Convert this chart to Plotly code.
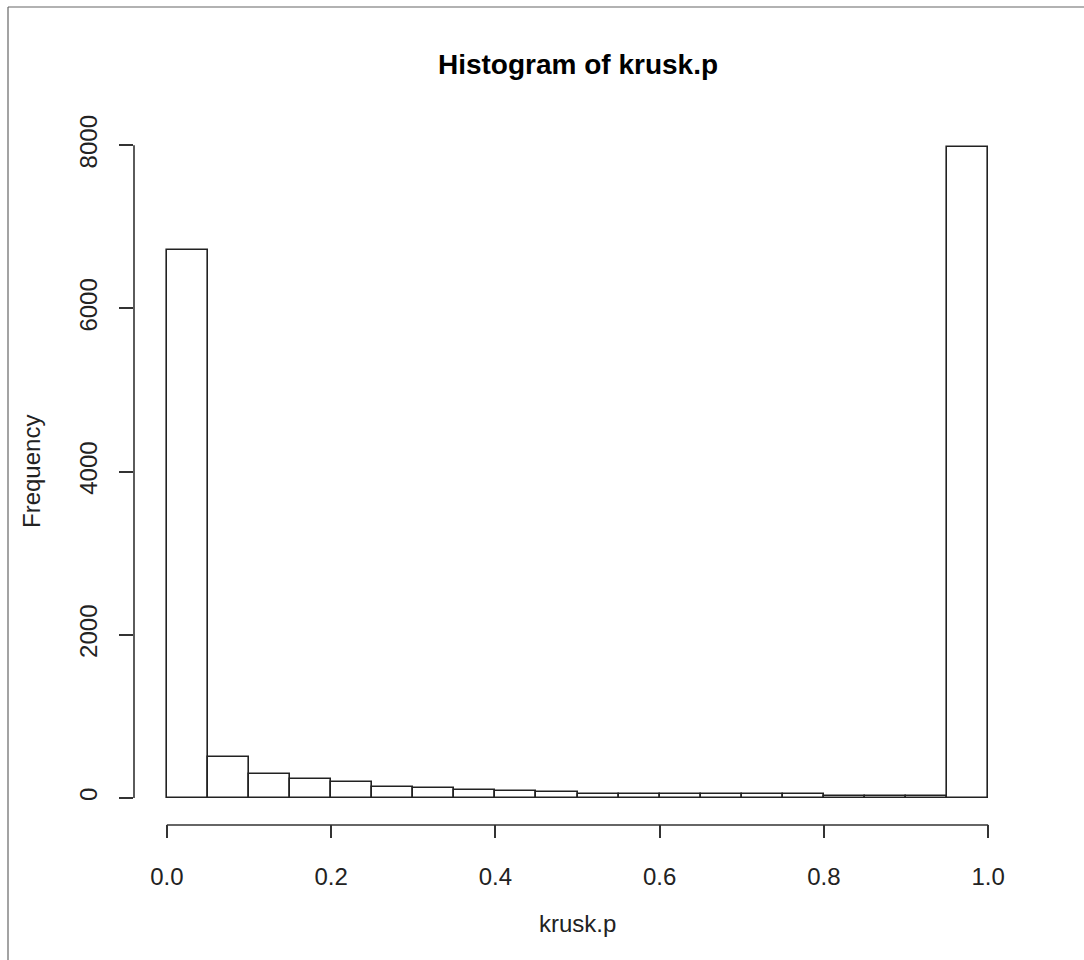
import plotly.graph_objects as go

# Histogram bin edges (width 0.05) and counts per bin
bin_starts = [0.00, 0.05, 0.10, 0.15, 0.20, 0.25, 0.30, 0.35, 0.40, 0.45,
              0.50, 0.55, 0.60, 0.65, 0.70, 0.75, 0.80, 0.85, 0.90, 0.95]
counts = [6721, 507, 294, 229, 193, 140, 123, 92, 90, 74,
          50, 50, 49, 49, 48, 48, 30, 29, 29, 7979]
bin_width = 0.05

x_tick_vals = [0.0, 0.2, 0.4, 0.6, 0.8, 1.0]
x_tick_text = ["0.0", "0.2", "0.4", "0.6", "0.8", "1.0"]
y_tick_vals = [0, 2000, 4000, 6000, 8000]
y_tick_text = ["0", "2000", "4000", "6000", "8000"]

W, H = 1084, 960
L, R, T, B = 134, 63, 121, 136
font = "Liberation Sans, Arial, sans-serif"

ymax = max(counts)
x_range = [-0.04, 1.04]
y_range = [-0.04 * ymax, 1.04 * ymax]

centers = [s + bin_width / 2 for s in bin_starts]

fig = go.Figure(go.Bar(
    x=centers, y=counts, width=bin_width,
    marker=dict(color="white", line=dict(color="#222222", width=1.6)),
    hoverinfo="skip",
))

def px_to_paper_x(px):
    return (px - L) / (W - L - R)

def px_to_paper_y(py):
    return 1 - (py - T) / (H - T - B)

axis_col = "#333333"
shapes = [
    # axis lines spanning the tick range only
    dict(type="line", xref="x", yref="paper", x0=0, x1=1,
         y0=px_to_paper_y(825), y1=px_to_paper_y(825),
         line=dict(color=axis_col, width=1.6)),
    dict(type="line", xref="paper", yref="y", x0=0, x1=0, y0=0, y1=8000,
         line=dict(color=axis_col, width=1.6)),
    # outer frame edges
    dict(type="line", xref="paper", yref="paper",
         x0=px_to_paper_x(8), x1=px_to_paper_x(8),
         y0=px_to_paper_y(7), y1=px_to_paper_y(960),
         line=dict(color="#666666", width=1.2)),
    dict(type="line", xref="paper", yref="paper",
         x0=px_to_paper_x(8), x1=px_to_paper_x(1084),
         y0=px_to_paper_y(7), y1=px_to_paper_y(7),
         line=dict(color="#666666", width=1.2)),
]

annotations = [
    dict(text="krusk.p", xref="paper", yref="paper",
         x=px_to_paper_x(577), y=px_to_paper_y(923),
         xanchor="center", yanchor="middle", showarrow=False,
         font=dict(family=font, size=24, color="#222222")),
    dict(text="Frequency", xref="paper", yref="paper",
         x=px_to_paper_x(31), y=px_to_paper_y(472),
         xanchor="center", yanchor="middle", showarrow=False, textangle=-90,
         font=dict(family=font, size=24, color="#222222")),
]

fig.update_layout(
    width=W, height=H,
    margin=dict(l=L, r=R, t=T, b=B, pad=0),
    paper_bgcolor="white", plot_bgcolor="white",
    showlegend=False,
    bargap=0,
    title=dict(text="<b>Histogram of krusk.p</b>", x=px_to_paper_x(578), xref="paper",
               xanchor="center", y=1 - 64 / H, yref="container", yanchor="middle",
               font=dict(family=font, size=28, color="black")),
    shapes=shapes,
    annotations=annotations,
    xaxis=dict(range=x_range, showgrid=False, zeroline=False, showline=False,
               tickmode="array", tickvals=x_tick_vals, ticktext=x_tick_text,
               ticks="outside", ticklen=13, tickwidth=1.6, tickcolor=axis_col,
               ticklabelstandoff=18,
               tickfont=dict(family=font, size=24, color="#222222")),
    yaxis=dict(range=y_range, showgrid=False, zeroline=False, showline=False,
               tickmode="array", tickvals=y_tick_vals, ticktext=y_tick_text,
               ticks="outside", ticklen=14, tickwidth=1.6, tickcolor=axis_col,
               tickangle=-90, ticklabelstandoff=12,
               tickfont=dict(family=font, size=24, color="#222222")),
)

fig.write_html("out.html")
